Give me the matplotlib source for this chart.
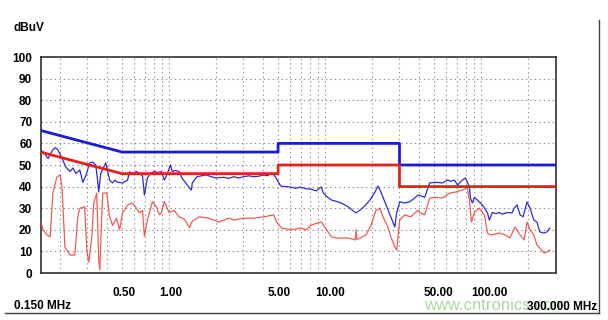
import matplotlib
matplotlib.use("Agg")
import matplotlib.pyplot as plt
import matplotlib.transforms as mtransforms
from matplotlib.lines import Line2D
import numpy as np

# ---------------- data ----------------
limit_qp_f = [0.15, 0.5, 5.0, 5.0, 30.0, 30.0, 300.0]
limit_qp_db = [66, 56, 56, 60, 60, 50, 50]
limit_av_f = [0.15, 0.5, 5.0, 5.0, 30.0, 30.0, 300.0]
limit_av_db = [56, 46, 46, 50, 50, 40, 40]

qp_f = [0.151, 0.160, 0.168, 0.175, 0.180, 0.187, 0.194, 0.202, 0.209, 0.218, 0.232,
        0.242, 0.253, 0.268, 0.280, 0.293, 0.310, 0.324, 0.339, 0.347, 0.354, 0.365,
        0.393, 0.416, 0.435, 0.450, 0.468, 0.504, 0.542, 0.558, 0.590, 0.618, 0.650,
        0.676, 0.695, 0.727, 0.760, 0.806, 0.850, 0.892, 0.933, 0.975, 1.02, 1.05,
        1.10, 1.16, 1.21, 1.31, 1.39, 1.41, 1.51, 1.62, 1.73, 1.86, 2.00, 2.25, 2.42,
        2.60, 2.80, 3.01, 3.25, 3.49, 3.75, 4.04, 4.30, 4.48, 4.70, 4.82, 5.19, 5.6,
        6.00, 6.50, 6.95, 7.5, 8.06, 8.79, 9.2, 9.47, 9.75, 10.4, 11.0, 12.0, 12.7,
        13.4, 14.1, 15.0, 15.8, 17.0, 18.2, 19.4, 20.9, 21.8, 22.8, 24.6, 26.4, 28.0,
        28.8, 30.1, 32.4, 34.9, 37.6, 39.3, 40.4, 43.5, 45.4, 46.8, 51.1, 56.6, 60.9,
        64.0, 67.6, 70.6, 75.9, 79.4, 84.2, 85.5, 88.0, 90.6, 94.7, 102, 110, 113, 118,
        125, 131, 137, 143, 151, 158, 163, 170, 178, 186, 197, 206, 218, 228, 238, 253,
        264, 276]
qp_db = [57.0, 55.0, 53.0, 55.5, 57.0, 58.0, 57.0, 54.5, 52.0, 49.0, 47.0,
         48.6, 46.0, 47.7, 42.0, 45.0, 51.0, 51.4, 50.0, 44.0, 37.5, 46.0,
         51.0, 43.0, 41.7, 43.0, 42.0, 41.7, 43.0, 46.8, 46.0, 47.0, 46.0,
         45.0, 36.0, 44.0, 46.0, 47.0, 46.5, 47.0, 43.0, 46.0, 50.0, 47.0,
         47.5, 47.0, 44.0, 40.7, 38.4, 41.7, 44.6, 45.0, 45.4, 44.6, 44.0, 44.3, 43.8,
         44.6, 44.0, 44.6, 45.0, 44.6, 44.8, 45.4, 45.0, 46.3, 45.6, 44.4, 40.3, 40.0,
         39.8, 39.2, 39.8, 39.0, 38.9, 38.0, 39.3, 39.8, 37.0, 35.0, 33.8, 33.0, 32.4,
         31.5, 30.6, 29.0, 27.8, 29.5, 31.5, 33.8, 37.5, 40.3, 37.5, 31.5, 26.0, 21.3,
         28.0, 33.0, 32.4, 33.0, 34.7, 36.0, 36.0, 35.0, 39.0, 41.7, 42.0, 41.7, 43.0,
         42.5, 43.0, 40.7, 43.0, 44.0, 40.0, 34.7, 32.4, 35.0, 33.8, 31.5, 27.8, 24.5, 28.0,
         27.5, 28.0, 27.2, 27.8, 28.0, 27.8, 30.0, 31.5, 26.9, 26.0, 32.9, 30.0, 24.5, 23.6, 19.0, 18.5,
         19.0, 20.8]

av_f = [0.151, 0.156, 0.165, 0.173, 0.180, 0.191, 0.200, 0.206, 0.215, 0.232, 0.249,
        0.260, 0.268, 0.288, 0.297, 0.306, 0.320, 0.329, 0.344, 0.354, 0.360, 0.370,
        0.376, 0.398, 0.416, 0.435, 0.461, 0.482, 0.504, 0.542, 0.583, 0.618, 0.647,
        0.676, 0.695, 0.727, 0.782, 0.830, 0.867, 0.892, 0.933, 1.00, 1.08, 1.16,
        1.25, 1.35, 1.41, 1.56, 1.80, 2.09, 2.42, 2.60, 3.01, 3.49, 4.04, 4.68, 4.89,
        5.27, 6.00, 6.95, 7.59, 8.06, 8.79, 9.47, 10.05, 11.0, 12.1, 14.1, 15.6, 15.8,
        16.0, 16.8, 18.3, 19.7, 21.2, 22.5, 23.5, 25.3, 26.4, 28.0, 28.8, 30.1, 32.4,
        35.4, 39.3, 40.4, 43.5, 46.8, 51.1, 56.6, 62.8, 68.6, 75.9, 81.7, 84.2, 86.7,
        90.6, 97.5, 105, 110, 115, 131, 143, 153, 165, 178, 189, 197, 206, 218, 228,
        238, 253, 264, 276]
av_db = [23.6, 20.0, 17.6, 16.7, 37.0, 44.4, 45.4, 40.0, 12.0, 8.3, 8.3,
         26.0, 30.0, 30.6, 10.6, 5.0, 16.7, 32.4, 37.0, 6.0, 1.4, 26.0,
         37.0, 37.0, 26.0, 22.0, 25.4, 20.0, 27.8, 31.5, 32.4, 30.0, 27.8,
         29.0, 17.0, 24.5, 33.0, 30.6, 27.0, 27.8, 33.0, 28.0, 29.0, 26.0,
         25.0, 21.0, 24.0, 26.0, 25.4, 23.6, 25.4, 24.5, 25.4, 25.4, 26.0, 26.9, 23.6,
         20.8, 20.0, 20.8, 20.0, 22.0, 23.0, 23.6, 20.8, 16.7, 16.2, 16.2, 15.3, 20.0,
         15.5, 16.2, 17.6, 22.0, 29.0, 30.0, 26.0, 21.3, 16.7, 12.0, 10.6, 24.5, 26.9,
         26.0, 29.0, 28.0, 26.9, 34.7, 35.0, 34.7, 37.0, 37.5, 38.4, 39.3, 33.8, 23.6,
         28.0, 30.0, 26.9, 18.5, 17.6, 18.5, 17.6, 16.2, 21.3, 17.6, 15.3, 23.6, 20.0, 17.6, 13.0,
         11.6, 9.3, 9.7, 10.6]

y_ticks = list(range(0, 101, 10))
x_tick_vals = [0.5, 1.0, 5.0, 10.0, 50.0, 100.0]
x_tick_labels = ["0.50", "1.00", "5.00", "10.00", "50.00", "100.00"]
grid_x = [m * d for d in (0.1, 1, 10, 100) for m in range(1, 10) if 0.15 < m * d < 300]

# ---------------- figure ----------------
FONT = "Liberation Sans"
fig = plt.figure(figsize=(6.08, 3.20), dpi=100)
fig.patch.set_facecolor("white")
ax = fig.add_axes([40.5 / 608, 1 - 273 / 320, 515 / 608, 216 / 320])
ax.set_xscale("log")
ax.set_xlim(0.15, 300)
ax.set_ylim(0, 100)

for gx in grid_x:
    ax.axvline(gx, color="#8a8a8a", lw=0.8, ls=(0, (1.2, 2.8)), zorder=1)
for gy in y_ticks[1:-1]:
    ax.axhline(gy, color="#8a8a8a", lw=0.8, ls=(0, (1.2, 2.8)), zorder=1)

ax.plot(av_f, av_db, color="#ee4a40", lw=0.9, alpha=0.9, zorder=3)
ax.plot(qp_f, qp_db, color="#2d2dd2", lw=0.9, zorder=4)
ax.plot(limit_qp_f, limit_qp_db, color="#1a1ad8", lw=2.0, zorder=5)
ax.plot(limit_av_f, limit_av_db, color="#e3231b", lw=2.0, zorder=5)

for s in ax.spines.values():
    s.set_color("#303030")
    s.set_linewidth(1.2)

ax.set_yticks(y_ticks)
ax.set_yticklabels([str(v) for v in y_ticks], fontfamily=FONT, fontweight="bold", fontsize=8.5)
ax.tick_params(axis="y", length=0, pad=6)
ax.set_xticks(x_tick_vals)
ax.set_xticklabels(x_tick_labels, fontfamily=FONT, fontweight="bold", fontsize=8.5, ha="left")
ax.xaxis.set_minor_locator(matplotlib.ticker.NullLocator())
ax.tick_params(axis="x", length=0, pad=10)
offset = mtransforms.ScaledTranslation(-10 / 100, 0, fig.dpi_scale_trans)
for lab in ax.get_xticklabels():
    lab.set_transform(lab.get_transform() + offset)

fig.text(14 / 608, 1 - 28 / 320, "dBuV", fontfamily=FONT, fontweight="bold", fontsize=8.5,
         ha="left", va="center")
fig.text(14 / 608, 1 - 306 / 320, "0.150 MHz", fontfamily=FONT, fontweight="bold", fontsize=8.5,
         ha="left", va="center")
fig.text(424 / 608, 1 - 305.5 / 320, "www.cntronics.com", fontfamily=FONT, fontsize=12,
         color="#a9d9a0", ha="left", va="center", zorder=0)
fig.text(597 / 608, 1 - 307 / 320, "300.000 MHz", fontfamily=FONT, fontweight="bold", fontsize=8.5,
         ha="right", va="center")

fig.add_artist(Line2D([5 / 608, 599 / 608], [1 - 313 / 320, 1 - 313 / 320],
                      color="#404040", lw=1.0, transform=fig.transFigure))
fig.add_artist(Line2D([599 / 608, 599 / 608], [1 - 20 / 320, 1 - 313 / 320],
                      color="#404040", lw=1.0, transform=fig.transFigure))

fig.savefig("out.png", dpi=100, facecolor="white")
